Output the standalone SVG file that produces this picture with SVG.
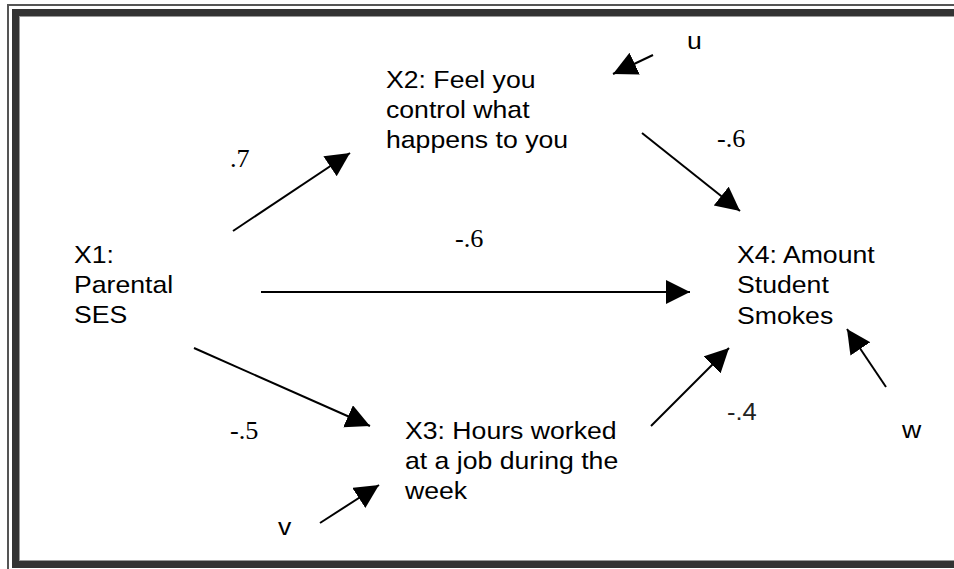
<svg xmlns="http://www.w3.org/2000/svg" width="954" height="569" viewBox="0 0 954 569">
<style>
.t{font-family:"Liberation Sans",Arial,sans-serif;font-size:24px;fill:#000}
.n{font-family:"Liberation Serif","Times New Roman",serif;font-size:25px;fill:#000}
.e{stroke:#000;stroke-width:2;fill:none;marker-end:url(#ah)}
</style>
<defs>
<marker id="ah" markerUnits="userSpaceOnUse" markerWidth="26" markerHeight="26" viewBox="0 0 26 26" refX="24" refY="12" orient="auto">
<path d="M0,0 L24,12 L0,24 Z" fill="#000"/>
</marker>
</defs>
<rect width="954" height="569" fill="#fff"/>
<g id="frame">
<rect x="8" y="5" width="980" height="600" fill="none" stroke="#555" stroke-width="2"/>
<rect x="15.5" y="12.5" width="980" height="552" fill="none" stroke="#333" stroke-width="7"/>
<rect x="19.5" y="16.5" width="980" height="544" fill="none" stroke="#999" stroke-width="1"/>
</g>
<g id="connectors">
<line class="e" x1="233" y1="231" x2="350" y2="153"/>
<line class="e" x1="653" y1="55" x2="613" y2="74"/>
<line class="e" x1="642" y1="133" x2="740" y2="211"/>
<line class="e" x1="261" y1="292" x2="690" y2="292"/>
<line class="e" x1="194" y1="348" x2="370" y2="426"/>
<line class="e" x1="320" y1="523" x2="379" y2="485"/>
<line class="e" x1="651" y1="426" x2="729" y2="348"/>
<line class="e" x1="886" y1="387" x2="847" y2="329"/>
</g>
<g id="x1" transform="matrix(1.11,0,0,1,74,0)">
<text class="t" x="0" y="263">X1:</text>
<text class="t" x="0" y="293">Parental</text>
<text class="t" x="0" y="323">SES</text>
</g>
<g id="x2" transform="matrix(1.11,0,0,1,386,0)">
<text class="t" x="0" y="88">X2: Feel you</text>
<text class="t" x="0" y="118">control what</text>
<text class="t" x="0" y="148">happens to you</text>
</g>
<g id="x3" transform="matrix(1.11,0,0,1,405,0)">
<text class="t" x="0" y="439">X3: Hours worked</text>
<text class="t" x="0" y="469">at a job during the</text>
<text class="t" x="0" y="499">week</text>
</g>
<g id="x4" transform="matrix(1.11,0,0,1,737,0)">
<text class="t" x="0" y="263">X4: Amount</text>
<text class="t" x="0" y="293">Student</text>
<text class="t" x="0" y="324">Smokes</text>
</g>
<g id="u" transform="matrix(1.11,0,0,1,687,0)"><text class="t" x="0" y="49">u</text></g>
<g id="v" transform="matrix(1.11,0,0,1,278,0)"><text class="t" x="0" y="535">v</text></g>
<g id="w" transform="matrix(1.11,0,0,1,902,0)"><text class="t" x="0" y="438">w</text></g>
<g id="labels">
<text class="n" transform="matrix(1.05,0,0,1,230,0)" x="0" y="167">.7</text>
<text class="n" transform="matrix(1.05,0,0,1,717,0)" x="0" y="147">-.6</text>
<text class="n" transform="matrix(1.05,0,0,1,455,0)" x="0" y="247">-.6</text>
<text class="n" transform="matrix(1.05,0,0,1,230,0)" x="0" y="439">-.5</text>
<text class="t" transform="matrix(1.11,0,0,1,727,0)" x="0" y="420" style="font-size:23px;fill:#222">-.4</text>
</g>
</svg>
